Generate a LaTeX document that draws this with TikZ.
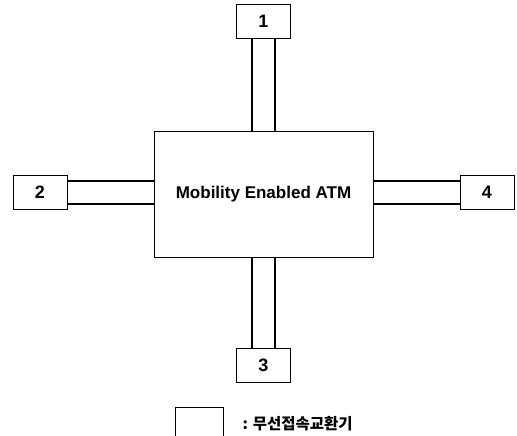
\documentclass[tikz,border=0pt]{standalone}
\usepackage{fontspec}
\setmainfont{Liberation Sans}
\newfontfamily\kor{Noto Sans CJK KR}
\usetikzlibrary{positioning,calc}

\begin{document}
\begin{tikzpicture}[x=1pt,y=-1pt,
    sw/.style={draw, line width=0.9pt, minimum width=54pt, minimum height=34pt,
      inner sep=0pt, font=\bfseries\fontsize{18}{18}\selectfont},
    link/.style={line width=1.8pt}]
  \clip (0,0) rectangle (517,436);
  % comutador central
  \node[draw, line width=0.6pt, minimum width=219pt, minimum height=126pt,
    font=\bfseries\fontsize{17}{18}\selectfont] (atm) at (263.5,194) {\raisebox{1pt}{Mobility Enabled ATM}};
  % caixas numeradas
  \node[sw] (n1) at (263.5,21) {1};
  \node[sw] (n2) at (40,192.5) {2};
  \node[sw] (n3) at (263.5,365) {3};
  \node[sw] (n4) at (487,192.5) {4};
  % ligacoes duplas
  \foreach \d in {-11.5,11.5} {
    \draw[link] ([xshift=\d]n1.south) -- ([xshift=\d]atm.north);
    \draw[link] ([xshift=\d]atm.south) -- ([xshift=\d]n3.north);
    \draw[link] ([yshift=\d]n2.east) -- ([yshift=\d]n2.east -| atm.west);
    \draw[link] ([yshift=\d]atm.east |- n4.east) -- ([yshift=\d]n4.west);
  }
  % legenda
  \node[sw, minimum width=48pt] (leg) at (199,424) {};
  \node[right=19pt of leg.east, anchor=west, inner sep=0pt,
    font=\kor\bfseries\fontsize{15.5}{16}\selectfont] (legtxt) {: 무선접속교환기};
\end{tikzpicture}
\end{document}
